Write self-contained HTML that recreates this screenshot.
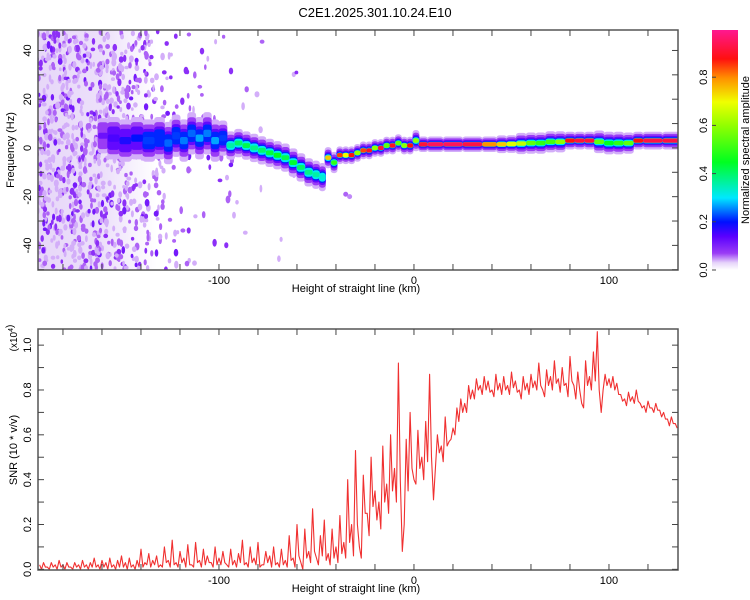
<!DOCTYPE html>
<html><head><meta charset="utf-8"><title>C2E1 chart</title>
<style>
html,body{margin:0;padding:0;background:#fff;}
svg{display:block;font-family:"Liberation Sans",sans-serif;}
</style></head>
<body>
<svg id="chart" width="750" height="600" viewBox="0 0 750 600" xmlns="http://www.w3.org/2000/svg">
<defs>
<linearGradient id="cbgrad" x1="0" y1="1" x2="0" y2="0">
<stop offset="0" stop-color="#ffffff"/>
<stop offset="0.03" stop-color="#e6d4fa"/>
<stop offset="0.07" stop-color="#9a3cf5"/>
<stop offset="0.14" stop-color="#5a00ff"/>
<stop offset="0.2" stop-color="#0010ff"/>
<stop offset="0.3" stop-color="#00e8ff"/>
<stop offset="0.45" stop-color="#00ff20"/>
<stop offset="0.6" stop-color="#90ff00"/>
<stop offset="0.7" stop-color="#f0ff00"/>
<stop offset="0.8" stop-color="#ff9000"/>
<stop offset="0.88" stop-color="#ff1010"/>
<stop offset="1" stop-color="#ff1890"/>
</linearGradient>
<linearGradient id="hazegrad" x1="0" y1="0" x2="1" y2="0">
<stop offset="0" stop-color="#e4d2f8" stop-opacity="0.9"/>
<stop offset="0.55" stop-color="#e4d2f8" stop-opacity="0.7"/>
<stop offset="1" stop-color="#e4d2f8" stop-opacity="0"/>
</linearGradient>
<clipPath id="clipTop"><rect x="38" y="30" width="640" height="240"/></clipPath>
<clipPath id="clipBot"><rect x="38" y="329" width="640" height="241"/></clipPath>
</defs>
<text x="375" y="17" font-size="13" text-anchor="middle">C2E1.2025.301.10.24.E10</text>
<g id="topPlot" clip-path="url(#clipTop)"></g>
<g id="topAxes"></g>
<g id="botPlot" clip-path="url(#clipBot)"></g>
<g id="botAxes"></g>
<rect x="712" y="30" width="26" height="240" fill="url(#cbgrad)"/>
<g id="cbAxes"></g>
<text transform="translate(749,150) rotate(-90)" font-size="11" text-anchor="middle">Normalized spectral amplitude</text>
<text transform="translate(14,150) rotate(-90)" font-size="11" text-anchor="middle">Frequency (Hz)</text>
<text x="356" y="292" font-size="11" text-anchor="middle">Height of straight line (km)</text>
<text transform="translate(17,450) rotate(-90)" font-size="11" text-anchor="middle">SNR (10 * v/v)</text>
<text transform="translate(17,338) rotate(-90)" font-size="10" text-anchor="middle">(x10<tspan dy="-4" font-size="7">4</tspan>)</text>
<text x="356" y="592" font-size="11" text-anchor="middle">Height of straight line (km)</text>
</svg>
<script>
// ---------- data ----------
const xTickValues = [-180,-160,-140,-120,-100,-80,-60,-40,-20,0,20,40,60,80,100,120];
const xTickLabels = ["-100","0","100"];
const freqTickValues = [-50,-40,-30,-20,-10,0,10,20,30,40];
const freqTickLabels = ["-40","-20","0","20","40"];
const snrTickValues = [0,0.1,0.2,0.3,0.4,0.5,0.6,0.7,0.8,0.9,1.0];
const snrTickLabels = ["0.0","0.2","0.4","0.6","0.8","1.0"];
const cbTickLabels = ["0.0","0.2","0.4","0.6","0.8"];

const ridgeKm = [-160,-154,-148,-142,-136,-130,-126,-122,-118,-114,-110,-106,-102,-98,-94,-90,-86,-82,-78,-74,-70,-66,-62,-58,-54,-50,-47,-44,-41,-38,-35,-32,-29,-26,-23,-20,-17,-14,-11,-8,-5,-2,1,4,10,20,30,40,45,50,55,60,65,70,75,80,85,90,95,100,105,110,115,120,135];
const ridgeFreq = [5,4,3,4,3,4,2,5,3,6,4,6,3,4,1,2,1,0,-1,-2,-3,-4,-6,-8,-10,-11,-12,-4,-6,-3,-3,-3,-2,-1,-1,0,0,1,1,2,1,1,3,1.5,1.5,1.5,1.5,1.5,1.5,1.6,1.8,2,2,2.5,2.5,3,3,3,2.5,2,2,2,3,3,3];
const ridgeAmp = [0.12,0.15,0.18,0.20,0.22,0.21,0.24,0.22,0.25,0.24,0.27,0.25,0.27,0.22,0.36,0.40,0.42,0.38,0.40,0.43,0.45,0.42,0.44,0.40,0.38,0.36,0.33,0.75,0.50,0.85,0.70,0.88,0.60,0.85,0.90,0.60,0.92,0.55,0.90,0.55,0.60,0.88,0.60,0.92,0.95,0.95,0.93,0.80,0.75,0.68,0.65,0.55,0.50,0.52,0.60,0.88,0.92,0.92,0.55,0.45,0.50,0.55,0.88,0.93,0.93];
const ridgeSpread = [5,6,6,6,6,6,6,6,6,6,6,6,6,5,4,4,4,4,4,4,4,4,4,4,4,4,4,3,3,2.5,2.5,2.5,2.5,2.5,2.5,2.5,2.5,2.5,2.5,2.5,2.5,2.5,3,2.2,2.2,2.2,2.2,2.2,2.5,2.5,3,3,3,3,3,2.5,2.5,2.5,3.2,3.2,3.2,3,2.5,2.5,2.5];

const noiseBinStart = [-195,-185,-175,-165,-155,-145,-135,-125,-115,-105,-95,-85,-75,-65];
const noiseDensity = [1.0,1.0,0.95,0.9,0.8,0.65,0.35,0.16,0.1,0.07,0.05,0.03,0.02,0.015];

const snrStartKm = -192, snrStepKm = 2;
const snrValues = [
0.02,0.03,0.01,0.03,0.02,0.04,0.02,0.03,0.01,0.03,0.02,0.04,0.02,0.03,0.05,0.02,0.04,0.03,0.05,0.02,0.04,0.06,0.03,0.05,0.02,0.04,
0.09,0.03,0.07,0.04,0.06,0.02,0.10,0.04,0.13,0.03,0.08,0.05,0.11,0.02,0.12,0.04,0.09,0.06,0.03,0.10,
0.05,0.08,0.02,0.09,0.04,0.07,0.13,0.03,0.10,0.05,0.12,0.02,0.08,0.06,0.10,0.03,0.09,0.04,
0.15,0.05,0.20,0.03,0.18,0.08,0.27,0.05,0.15,0.22,0.07,0.18,0.10,0.24,0.12,
0.40,0.20,0.53,0.10,0.42,0.25,0.50,0.35,
0.30,0.55,0.38,0.60,0.45,0.92,0.08,0.58,0.70,0.40,
0.62,0.50,0.66,0.87,0.31,0.60,0.55,0.68,0.57,0.63,
0.72,0.76,0.74,0.82,0.80,
0.85,0.82,0.86,0.84,0.80,0.87,0.83,0.86,0.82,0.88,0.84,0.80,0.86,0.83,0.87,
0.84,0.92,0.80,0.89,0.86,0.93,0.85,0.90,0.83,0.95,0.82,0.88,0.74,0.93,0.86,0.97,1.06,
0.70,0.87,0.85,0.86,0.83,0.78,0.76,0.79,0.77,0.80,0.74,0.73,0.75,0.72,0.74,0.71,0.70,0.67,0.68,0.65];
const snrLow = [
0.00,0.01,0.00,0.01,0.00,0.01,0.00,0.01,0.00,0.01,0.00,0.01,0.00,0.01,0.01,0.00,0.01,0.00,0.01,0.00,0.01,0.01,0.00,0.01,0.00,0.01,
0.01,0.02,0.01,0.02,0.01,0.01,0.03,0.01,0.02,0.01,0.03,0.01,0.02,0.01,0.03,0.01,0.02,0.03,0.01,0.02,
0.02,0.03,0.01,0.02,0.01,0.03,0.02,0.01,0.03,0.02,0.01,0.02,0.03,0.01,0.02,0.01,0.02,0.01,
0.04,0.01,0.06,0.00,0.05,0.03,0.08,0.02,0.06,0.04,0.02,0.05,0.03,0.07,0.05,
0.12,0.06,0.20,0.05,0.25,0.15,0.28,0.22,
0.18,0.30,0.25,0.35,0.30,0.40,0.20,0.35,0.45,0.38,
0.45,0.40,0.48,0.50,0.45,0.52,0.48,0.55,0.58,0.60,
0.66,0.70,0.70,0.76,0.76,
0.80,0.78,0.80,0.79,0.77,0.80,0.78,0.80,0.78,0.81,0.79,0.76,0.80,0.78,0.81,
0.80,0.82,0.77,0.82,0.80,0.83,0.79,0.82,0.77,0.84,0.76,0.80,0.72,0.82,0.80,0.84,0.80,
0.80,0.82,0.81,0.80,0.78,0.75,0.73,0.75,0.74,0.75,0.72,0.70,0.72,0.70,0.71,0.68,0.67,0.64,0.65,0.63];

// ---------- scales ----------
const X0=38, X1=678, KM0=-192.8, KM1=135.4;
const xS = km => X0 + (km-KM0)/(KM1-KM0)*(X1-X0);
const TY0=30, TY1=270, F0=-50.1, F1=48.4;
const yF = f => TY1 - (f-F0)/(F1-F0)*(TY1-TY0);
const BY0=329, BY1=570, S0=-0.003, S1=1.072;
const yS = v => BY1 - (v-S0)/(S1-S0)*(BY1-BY0);
const CB0=270, CB1=29;
const yC = v => CB0 - v*(CB0-CB1);

const NS="http://www.w3.org/2000/svg";
function mk(tag, attrs, parent){const e=document.createElementNS(NS,tag);for(const k in attrs)e.setAttribute(k,attrs[k]);parent.appendChild(e);return e;}

function colorOf(a){
  const stops=[[0,[255,255,255]],[0.03,[230,212,250]],[0.07,[154,60,245]],[0.14,[90,0,255]],[0.2,[0,16,255]],[0.3,[0,232,255]],[0.45,[0,255,32]],[0.6,[144,255,0]],[0.7,[240,255,0]],[0.8,[255,144,0]],[0.88,[255,16,16]],[1,[255,24,144]]];
  for(let i=1;i<stops.length;i++){ if(a<=stops[i][0]){const t=(a-stops[i-1][0])/(stops[i][0]-stops[i-1][0]);const c=stops[i-1][1].map((v,j)=>Math.round(v+t*(stops[i][1][j]-v)));return `rgb(${c[0]},${c[1]},${c[2]})`;}}
  return "rgb(255,24,144)";
}
function hash(n){let x=Math.sin(n*127.1+311.7)*43758.5453;return x-Math.floor(x);}

// ---------- top panel: noise speckle ----------
const topG=document.getElementById('topPlot');
const haze=mk('rect',{x:xS(-195),y:30,width:xS(-132)-xS(-195),height:240,fill:'url(#hazegrad)'},topG);


const noiseG=mk('g',{},topG);


let seed=1;
noiseBinStart.forEach((b,i)=>{
  const n=Math.round(noiseDensity[i]*170);
  for(let k=0;k<n;k++){
    const km=b+hash(seed++)*10, f=F0+hash(seed++)*(F1-F0), lv=hash(seed++);
    const amp = lv<0.5 ? 0.04 : (lv<0.78 ? 0.06 : (lv<0.93 ? 0.085 : 0.11));
    const e=mk('ellipse',{cx:xS(km).toFixed(1),cy:yF(f).toFixed(1),rx:(1.3+hash(seed++)*1.2).toFixed(1),ry:(1.8+hash(seed++)*2.2).toFixed(1),fill:colorOf(amp)},noiseG);
    
    
  }
});
[[-35,-19,0.06],[-33,-20,0.05]].forEach(p=>{
  const e=mk('ellipse',{cx:xS(p[0]),cy:yF(p[1]),rx:2.5,ry:2.5,fill:colorOf(p[2])},noiseG);
  
  
});

// ---------- top panel: ridge ----------
const ridgeG=mk('g',{},topG);


const levels=[0.03,0.06,0.12,0.2,0.3];
const layerScale=[1.45,1.1,0.8,0.6,0.45];
levels.forEach((lv,li)=>{
  for(let i=0;i<ridgeKm.length;i++){
    const a=ridgeAmp[i]; if(a<=lv) continue;
    const x0=xS(ridgeKm[i]-(i>0?(ridgeKm[i]-ridgeKm[i-1])/2:2));
    const x1=xS(ridgeKm[i]+(i<ridgeKm.length-1?(ridgeKm[i+1]-ridgeKm[i])/2:2));
    const h=ridgeSpread[i]*layerScale[li];
    const r=mk('rect',{x:(x0-0.5).toFixed(1),y:yF(ridgeFreq[i]+h).toFixed(1),width:(x1-x0+1).toFixed(1),height:(yF(ridgeFreq[i]-h)-yF(ridgeFreq[i]+h)).toFixed(1),rx:3,fill:colorOf(lv+0.01)},ridgeG);
    
    
  }
});
for(let i=0;i<ridgeKm.length;i++){
  const a=ridgeAmp[i];
  const x0=xS(ridgeKm[i]-(i>0?(ridgeKm[i]-ridgeKm[i-1])/2:2));
  const x1=xS(ridgeKm[i]+(i<ridgeKm.length-1?(ridgeKm[i+1]-ridgeKm[i])/2:2));
  const h=Math.max(0.9,ridgeSpread[i]*0.25);
  const r=mk('rect',{x:x0.toFixed(1),y:yF(ridgeFreq[i]+h).toFixed(1),width:(x1-x0).toFixed(1),height:(yF(ridgeFreq[i]-h)-yF(ridgeFreq[i]+h)).toFixed(1),rx:2,fill:colorOf(a)},ridgeG);
  
  
}

// ---------- axes helper ----------
function frame(g,y0,y1,yTicks,yMap,yLabels,yLabelVals){
  mk('rect',{x:X0,y:y0,width:X1-X0,height:y1-y0,fill:'none',stroke:'#555','stroke-width':1.5},g);
  xTickValues.forEach(v=>{const x=xS(v);
    mk('line',{x1:x,y1:y1,x2:x,y2:y1-6,stroke:'#444'},g);
    mk('line',{x1:x,y1:y0,x2:x,y2:y0+6,stroke:'#444'},g);});
  [-100,0,100].forEach((v,i)=>{const t=mk('text',{x:xS(v),y:y1+14,'font-size':11,'text-anchor':'middle'},g);t.textContent=xTickLabels[i];
    
    });
  yTicks.forEach(v=>{const y=yMap(v);
    mk('line',{x1:X0,y1:y,x2:X0+6,y2:y,stroke:'#444'},g);
    mk('line',{x1:X1,y1:y,x2:X1-6,y2:y,stroke:'#444'},g);});
  yLabelVals.forEach((v,i)=>{const y=yMap(v);const t=mk('text',{transform:`translate(31,${y}) rotate(-90)`,'font-size':11,'text-anchor':'middle'},g);t.textContent=yLabels[i];
    
    });
}
frame(document.getElementById('topAxes'),TY0,TY1,freqTickValues,yF,freqTickLabels,[-40,-20,0,20,40]);
frame(document.getElementById('botAxes'),BY0,BY1,snrTickValues,yS,snrTickLabels,[0,0.2,0.4,0.6,0.8,1.0]);

// ---------- bottom: SNR line (alternating upper / lower samples) ----------
const botG=document.getElementById('botPlot');
let d='';
snrValues.forEach((v,i)=>{const km=snrStartKm+i*snrStepKm;
  d+=(i?'L':'M')+xS(km).toFixed(1)+','+yS(v).toFixed(1);
  d+='L'+xS(km+snrStepKm/2).toFixed(1)+','+yS(snrLow[i]).toFixed(1);});
const line=mk('path',{d:d,fill:'none',stroke:'#f03030','stroke-width':1.1,'stroke-linejoin':'round'},botG);



// ---------- colorbar ticks ----------
const cbG=document.getElementById('cbAxes');
[0,0.2,0.4,0.6,0.8].forEach((v,i)=>{const y=yC(v);
  mk('line',{x1:712,y1:y,x2:716,y2:y,stroke:'#444'},cbG);
  const t=mk('text',{transform:`translate(707,${y}) rotate(-90)`,'font-size':11,'text-anchor':'middle'},cbG);t.textContent=cbTickLabels[i];
  
  });
</script>
</body></html>
